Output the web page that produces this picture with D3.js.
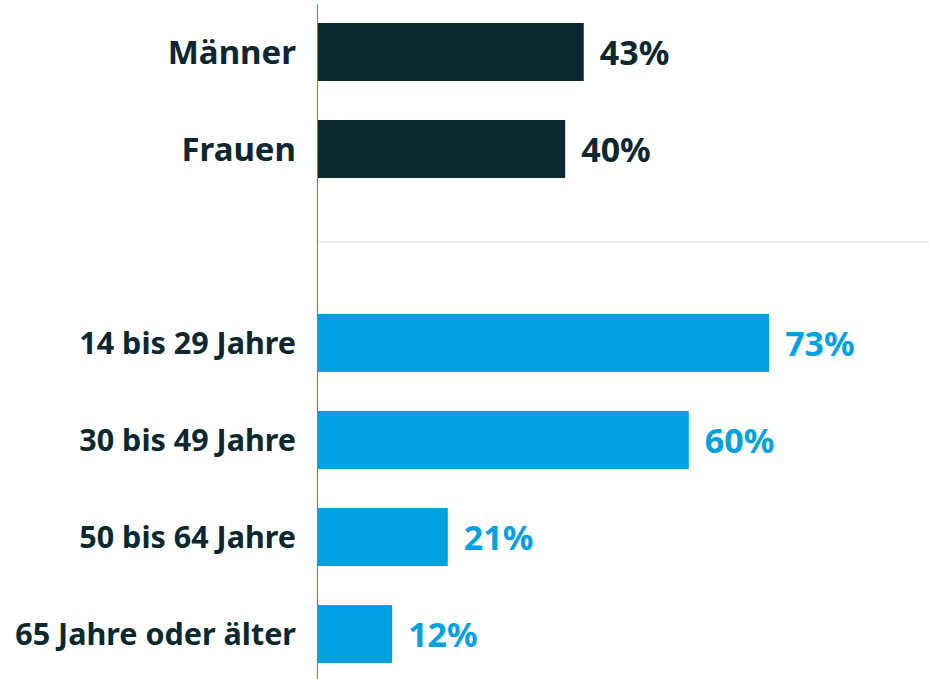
<!DOCTYPE html>
<html>
<head>
<meta charset="utf-8">
<script src="https://cdn.jsdelivr.net/npm/d3@7"></script>
<style>
  body { margin: 0; background: #fff; }
  text { font-family: "Noto Sans", sans-serif; font-weight: 700; }
</style>
</head>
<body>
<div id="chart"></div>
<script>
// Our canvas
const width = 929,
  height = 679

// Data
const categories = ['Männer', 'Frauen', '', '14 bis 29 Jahre', '30 bis 49 Jahre', '50 bis 64 Jahre', '65 Jahre oder älter']
const values = [43, 40, null, 73, 60, 21, 12]
const groups = ['sex', 'sex', null, 'age', 'age', 'age', 'age']

const dark = '#0b2730'
const blue = '#00a0e3'

let svg = d3.select('#chart')
  .append('svg')
  .attr('width', width)
  .attr('height', height)

const xScale = d3.scaleLinear()
  .domain([0, 100])
  .range([318, 936])

const yScale = d3.scaleBand()
  .domain(categories.map((c, i) => i))
  .range([3.5, 682.5])
  .paddingInner(0.402)
  .paddingOuter(0.201)

const data = categories.map((c, i) => ({ i, label: c, value: values[i], group: groups[i] }))
  .filter(d => d.value !== null)

// separator in the empty slot
svg.append('line')
  .attr('x1', xScale(0))
  .attr('x2', width)
  .attr('y1', yScale(2) + yScale.bandwidth() / 2 - 4)
  .attr('y2', yScale(2) + yScale.bandwidth() / 2 - 4)
  .attr('stroke', '#dddddd')
  .attr('stroke-width', 1)

svg.selectAll('rect.bar')
  .data(data)
  .enter()
  .append('rect')
  .attr('class', 'bar')
  .attr('x', xScale(0))
  .attr('y', d => yScale(d.i))
  .attr('width', d => xScale(d.value) - xScale(0))
  .attr('height', yScale.bandwidth())
  .attr('fill', d => d.group === 'sex' ? dark : blue)

// category labels
svg.selectAll('text.cat')
  .data(data)
  .enter()
  .append('text')
  .attr('class', 'cat')
  .attr('x', xScale(0) - 22)
  .attr('y', d => yScale(d.i) + yScale.bandwidth() / 2)
  .attr('dy', '0.36em')
  .attr('text-anchor', 'end')
  .attr('font-size', d => d.group === 'sex' ? 33 : 30.5)
  .attr('fill', dark)
  .text(d => d.label)

// value labels
svg.selectAll('text.val')
  .data(data)
  .enter()
  .append('text')
  .attr('class', 'val')
  .attr('x', d => xScale(d.value) + 16)
  .attr('y', d => yScale(d.i) + yScale.bandwidth() / 2)
  .attr('dy', '0.38em')
  .attr('font-size', 34)
  .attr('fill', d => d.group === 'sex' ? dark : blue)
  .text(d => d.value + '%')

// axis line
svg.append('line')
  .attr('x1', xScale(0) - 0.5)
  .attr('x2', xScale(0) - 0.5)
  .attr('y1', 4)
  .attr('y2', height)
  .attr('stroke', '#1a9ad6')
  .attr('stroke-width', 1)
</script>
</body>
</html>
